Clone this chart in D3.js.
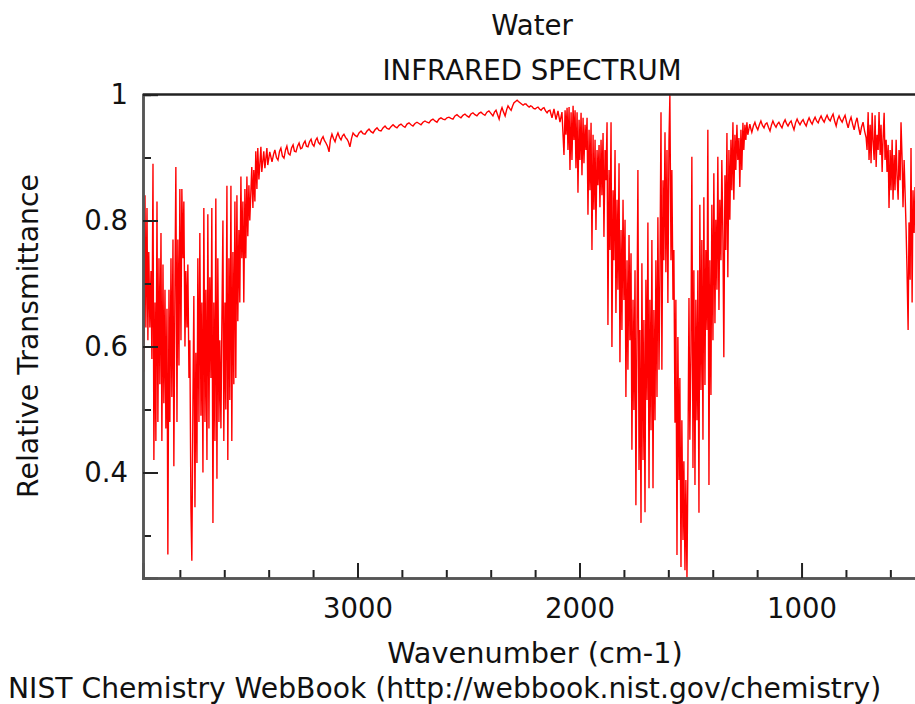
<!DOCTYPE html>
<html>
<head>
<meta charset="utf-8">
<script src="https://cdn.jsdelivr.net/npm/d3@7"></script>
<style>
  body { margin: 0; background: #fff; }
  svg { display: block; font-family: "DejaVu Sans", sans-serif; }
</style>
</head>
<body>
<svg id="chart" width="915" height="704"></svg>
<script>
// titles
const titleLines = ["Water", "INFRARED SPECTRUM"];
const xTitle = "Wavenumber (cm-1)";
const yTitle = "Relative Transmittance";
const footer = "NIST Chemistry WebBook (http://webbook.nist.gov/chemistry)";

// axis ticks
const xMajorTicks = [3000, 2000, 1000];
const xMinorTicks = [3800, 3600, 3400, 3200, 2800, 2600, 2400, 2200, 1800, 1600, 1400, 1200, 800, 600];
const yMajorTicks = [0.4, 0.6, 0.8, 1];
const yMinorTicks = [0.3, 0.5, 0.7, 0.9];

// spectrum, [wavenumber cm-1, transmittance]
// O-H stretch band
const bandStretch = [
  [3966,0.83],[3962,0.56],[3957,0.84],[3953,0.63],[3948,0.82],[3944,0.61],[3940,0.75],[3935,0.63],
  [3930,0.72],[3926,0.58],[3921,0.89],[3917,0.42],[3912,0.67],[3908,0.45],[3903,0.83],[3899,0.48],
  [3894,0.74],[3890,0.54],[3885,0.78],[3881,0.45],[3876,0.73],[3872,0.51],[3867,0.69],[3863,0.47],
  [3858,0.66],[3854,0.27],[3849,0.69],[3845,0.48],[3840,0.74],[3836,0.52],[3831,0.77],[3827,0.41],
  [3822,0.70],[3818,0.885],[3813,0.48],[3809,0.77],[3804,0.57],[3800,0.85],[3795,0.61],[3791,0.85],
  [3786,0.74],[3782,0.83],[3777,0.60],[3773,0.72],[3768,0.63],[3764,0.73],[3759,0.55],[3755,0.61],
  [3750,0.34],[3746,0.26],[3741,0.515],[3737,0.68],[3732,0.345],[3728,0.59],[3723,0.415],[3719,0.74],
  [3714,0.48],[3710,0.78],[3705,0.49],[3701,0.67],[3696,0.40],[3692,0.82],[3687,0.48],[3683,0.69],
  [3678,0.42],[3674,0.81],[3669,0.47],[3665,0.71],[3660,0.55],[3656,0.82],[3651,0.32],[3647,0.67],
  [3642,0.45],[3638,0.835],[3633,0.39],[3629,0.74],[3624,0.48],[3620,0.61],[3615,0.47],[3611,0.63],
  [3606,0.80],[3602,0.45],[3597,0.67],[3593,0.50],[3588,0.855],[3584,0.42],[3579,0.74],[3575,0.515],
  [3570,0.855],[3566,0.45],[3561,0.75],[3557,0.54],[3552,0.83],[3548,0.55],[3543,0.84],[3539,0.64],
  [3534,0.785],[3530,0.67],[3525,0.87],[3521,0.74],[3516,0.83],[3512,0.67],[3507,0.85],[3503,0.74],
  [3498,0.87],[3494,0.775],[3489,0.856],[3485,0.80],[3476,0.885],[3471,0.82],[3467,0.88],[3462,0.83],
  [3458,0.91],[3453,0.85],[3449,0.915],[3444,0.865],[3435,0.917],[3431,0.877],[3422,0.91],[3417,0.883],
  [3408,0.915],[3404,0.888],[3395,0.909],[3385,0.893]
];

// quiet region between the bands
const continuumHigh = [
  [3378,0.905],[3372,0.912],[3365,0.900],[3358,0.896],[3351,0.910],[3345,0.915],[3338,0.902],[3331,0.899],
  [3324,0.912],[3318,0.918],[3311,0.906],[3304,0.904],[3297,0.915],[3290,0.920],[3284,0.910],[3277,0.909],
  [3270,0.918],[3263,0.923],[3256,0.914],[3250,0.915],[3243,0.922],[3236,0.926],[3230,0.918],[3223,0.917],
  [3216,0.925],[3209,0.929],[3203,0.921],[3196,0.918],[3189,0.927],[3182,0.931],[3176,0.924],[3169,0.921],
  [3162,0.929],[3155,0.933],[3149,0.927],[3142,0.923],[3135,0.918],[3128,0.909],[3122,0.928],[3115,0.937],
  [3108,0.930],[3101,0.925],[3095,0.933],[3088,0.939],[3081,0.932],[3074,0.928],[3068,0.934],[3061,0.937],
  [3054,0.932],[3047,0.929],[3041,0.925],[3034,0.917],[3027,0.930],[3020,0.939],[3011,0.935],[3002,0.933],
  [2993,0.939],[2984,0.942],[2975,0.938],[2966,0.937],[2957,0.942],[2948,0.945],[2939,0.941],[2930,0.939],
  [2921,0.944],[2912,0.947],[2903,0.943],[2894,0.942],[2885,0.947],[2876,0.950],[2867,0.946],[2858,0.945],
  [2849,0.949],[2840,0.952],[2831,0.949],[2822,0.947],[2813,0.951],[2804,0.953],[2795,0.950],[2786,0.948],
  [2777,0.953],[2768,0.955],[2759,0.952],[2750,0.950],[2741,0.954],[2732,0.956],[2723,0.954],[2714,0.952],
  [2705,0.956],[2696,0.958],[2687,0.956],[2678,0.955],[2669,0.959],[2660,0.961],[2651,0.958],[2642,0.956],
  [2633,0.961],[2624,0.963],[2615,0.961],[2606,0.960],[2597,0.963],[2588,0.964],[2579,0.962],[2570,0.961],
  [2561,0.966],[2552,0.968],[2543,0.965],[2534,0.963],[2525,0.967],[2516,0.969],[2507,0.966],[2498,0.964],
  [2489,0.969],[2480,0.971],[2471,0.968],[2462,0.966],[2453,0.970],[2444,0.972],[2435,0.969],[2426,0.967],
  [2417,0.972],[2408,0.974],[2399,0.970],[2390,0.966],[2383,0.972],[2376,0.975],[2369,0.968],[2362,0.961],
  [2355,0.973],[2349,0.979],[2342,0.972],[2335,0.966],[2328,0.976],[2322,0.982],[2315,0.978],[2308,0.975],
  [2301,0.982],[2295,0.987],[2288,0.989],[2281,0.991],[2275,0.989],[2268,0.987],[2261,0.985],[2254,0.983],
  [2247,0.985],[2241,0.985],[2234,0.982],[2227,0.980],[2220,0.982],[2214,0.981],[2207,0.978],[2200,0.977],
  [2193,0.979],[2187,0.980],[2180,0.977],[2173,0.975],[2166,0.978],[2160,0.979],[2153,0.974],[2146,0.971],
  [2140,0.974],[2133,0.975],[2124,0.963],[2115,0.977],[2106,0.960],[2097,0.974],[2088,0.956],[2079,0.972]
];

// H-O-H bend band
const bandBend = [
  [2070,0.904],[2065,0.975],[2061,0.936],[2056,0.979],[2052,0.912],[2047,0.980],[2043,0.880],[2038,0.972],
  [2034,0.896],[2029,0.982],[2025,0.928],[2020,0.975],[2016,0.883],[2011,0.972],[2007,0.844],[2002,0.960],
  [1998,0.896],[1993,0.971],[1989,0.872],[1984,0.963],[1980,0.891],[1975,0.952],[1971,0.912],[1966,0.963],
  [1962,0.809],[1957,0.944],[1953,0.848],[1948,0.955],[1944,0.753],[1939,0.936],[1935,0.817],[1930,0.928],
  [1926,0.785],[1921,0.912],[1917,0.856],[1912,0.920],[1908,0.821],[1903,0.928],[1899,0.840],[1894,0.939],
  [1890,0.774],[1885,0.912],[1881,0.864],[1876,0.956],[1872,0.634],[1867,0.880],[1863,0.753],[1858,0.956],
  [1854,0.599],[1849,0.848],[1845,0.737],[1840,0.912],[1836,0.653],[1831,0.833],[1827,0.690],[1822,0.891],
  [1818,0.575],[1813,0.785],[1809,0.626],[1804,0.833],[1800,0.674],[1795,0.801],[1791,0.520],[1786,0.737],
  [1782,0.563],[1777,0.777],[1773,0.610],[1768,0.748],[1764,0.436],[1759,0.674],[1755,0.499],[1750,0.721],
  [1746,0.348],[1741,0.642],[1737,0.880],[1732,0.404],[1728,0.626],[1723,0.320],[1719,0.732],[1714,0.420],
  [1710,0.642],[1705,0.337],[1701,0.706],[1696,0.515],[1692,0.797],[1687,0.375],[1683,0.674],[1678,0.467],
  [1674,0.769],[1669,0.375],[1665,0.658],[1660,0.483],[1656,0.737],[1651,0.520],[1647,0.805],[1642,0.563],
  [1638,0.706],[1633,0.972],[1629,0.563],[1624,0.864],[1620,0.737],[1615,0.940],[1611,0.718],[1606,0.912],
  [1602,0.669],[1597,0.928],[1593,0.999],[1588,0.737],[1584,0.880],[1579,0.674],[1575,0.753],[1570,0.479],
  [1566,0.674],[1561,0.269],[1557,0.615],[1552,0.388],[1548,0.550],[1543,0.250],[1539,0.483],[1534,0.293],
  [1530,0.418],[1525,0.245],[1521,0.388],[1516,0.233],[1512,0.404],[1507,0.677],[1503,0.452],[1498,0.594],
  [1494,0.901],[1489,0.407],[1485,0.721],[1480,0.380],[1476,0.674],[1471,0.483],[1467,0.721],[1462,0.336],
  [1458,0.825],[1453,0.531],[1449,0.769],[1444,0.452],[1440,0.837],[1435,0.539],[1431,0.753],[1426,0.626],
  [1422,0.944],[1417,0.380],[1413,0.737],[1408,0.523],[1404,0.825],[1399,0.610],[1395,0.875],[1390,0.637],
  [1386,0.801],[1381,0.690],[1377,0.901],[1372,0.658],[1368,0.833],[1363,0.737],[1359,0.896],[1354,0.769],
  [1350,0.583],[1345,0.872],[1341,0.753],[1336,0.939],[1332,0.710],[1327,0.912],[1323,0.801],[1318,0.928],
  [1314,0.848],[1309,0.956],[1305,0.833],[1300,0.936],[1296,0.880],[1291,0.952],[1287,0.896],[1282,0.931],
  [1278,0.853],[1273,0.944],[1269,0.880],[1264,0.955],[1260,0.912],[1255,0.952],[1251,0.928],[1246,0.956],
  [1242,0.936],[1233,0.953]
];

const continuumLow = [
  [1228,0.945],[1224,0.940],[1217,0.950],[1210,0.956],[1204,0.949],[1197,0.944],[1190,0.952],[1183,0.958],
  [1176,0.951],[1169,0.947],[1163,0.953],[1156,0.955],[1149,0.948],[1142,0.942],[1136,0.951],[1129,0.958],
  [1122,0.952],[1115,0.948],[1109,0.953],[1102,0.956],[1095,0.951],[1088,0.947],[1081,0.955],[1074,0.960],
  [1068,0.954],[1061,0.950],[1054,0.955],[1047,0.958],[1041,0.951],[1034,0.944],[1027,0.955],[1020,0.961],
  [1014,0.956],[1007,0.952],[1000,0.957],[993,0.960],[986,0.954],[979,0.950],[973,0.957],[966,0.963],
  [959,0.957],[952,0.953],[946,0.959],[939,0.964],[932,0.958],[925,0.955],[919,0.961],[912,0.966],
  [905,0.960],[898,0.956],[892,0.962],[885,0.967],[878,0.961],[871,0.958],[865,0.964],[858,0.969],
  [851,0.958],[844,0.950],[838,0.960],[831,0.966],[824,0.960],[817,0.956],[811,0.962],[804,0.967],
  [797,0.956],[790,0.947],[784,0.957],[777,0.964],[770,0.953],[763,0.944],[757,0.955],[750,0.963],
  [743,0.948],[736,0.936],[730,0.948],[723,0.956],[716,0.942],[709,0.931]
];

// start of the librational band at the right edge
const bandEdge = [
  [705,0.912],[700,0.972],[696,0.896],[691,0.952],[687,0.891],[682,0.971],[678,0.928],[673,0.896],
  [669,0.967],[664,0.885],[660,0.936],[655,0.912],[651,0.972],[646,0.904],[642,0.952],[637,0.877],
  [633,0.928],[628,0.971],[624,0.896],[619,0.928],[615,0.877],[610,0.920],[606,0.820],[601,0.912],
  [597,0.848],[592,0.928],[588,0.833],[583,0.904],[579,0.848],[574,0.928],[570,0.872],[565,0.833],
  [561,0.912],[556,0.864],[552,0.956],[547,0.896],[543,0.821],[538,0.896],[534,0.848],[529,0.785],
  [525,0.721],[520,0.626],[516,0.797],[511,0.706],[507,0.915],[502,0.670],[498,0.848],[493,0.780],
  [489,0.853]
];

const spectrum = [].concat(bandStretch, continuumHigh, bandBend, continuumLow, bandEdge);

// layout
const margin = { top: 94.5, left: 143, right: -2, bottom: 126 };
const W = 915, H = 704;
const TICK_FONT = 27.5;

const svg = d3.select("#chart");

const x = d3.scaleLinear()
  .domain([3966, 480])
  .range([margin.left, W - margin.right]);

const y = d3.scaleLinear()
  .domain([0.2325, 1])
  .range([H - margin.bottom, margin.top]);

// clip for the trace
svg.append("clipPath")
  .attr("id", "plot-clip")
  .append("rect")
  .attr("x", x.range()[0])
  .attr("y", y.range()[1])
  .attr("width", x.range()[1] - x.range()[0])
  .attr("height", y.range()[0] - y.range()[1]);

// trace
const line = d3.line()
  .x(d => x(d[0]))
  .y(d => y(d[1]));

svg.append("path")
  .datum(spectrum)
  .attr("clip-path", "url(#plot-clip)")
  .attr("fill", "none")
  .attr("stroke", "#ff0000")
  .attr("stroke-width", 1.4)
  .attr("d", line);

// frame: top border dark, axes grey
svg.append("line")
  .attr("x1", x.range()[0]).attr("x2", x.range()[1])
  .attr("y1", y.range()[1]).attr("y2", y.range()[1])
  .attr("stroke", "#222").attr("stroke-width", 2.5);

svg.append("line")
  .attr("x1", x.range()[1]).attr("x2", x.range()[1])
  .attr("y1", y.range()[1]).attr("y2", y.range()[0])
  .attr("stroke", "#222").attr("stroke-width", 2.5);

function styleAxis(g) {
  g.select(".domain").attr("stroke", "#555").attr("stroke-width", 2.5);
  g.selectAll(".tick line").attr("stroke", "#222").attr("stroke-width", 2);
  g.selectAll(".tick text")
    .attr("fill", "#111")
    .attr("font-size", TICK_FONT)
    .attr("font-family", "DejaVu Sans, sans-serif");
}

// minor ticks, no labels
svg.append("g")
  .attr("transform", `translate(0,${y.range()[0]})`)
  .call(d3.axisBottom(x).tickValues(xMinorTicks).tickSize(-8).tickFormat(""))
  .call(styleAxis);

svg.append("g")
  .attr("transform", `translate(${x.range()[0]},0)`)
  .call(d3.axisLeft(y).tickValues(yMinorTicks).tickSize(-8).tickFormat(""))
  .call(styleAxis);

// major ticks with labels
svg.append("g")
  .attr("transform", `translate(0,${y.range()[0]})`)
  .call(d3.axisBottom(x).tickValues(xMajorTicks).tickSize(-15).tickPadding(20).tickFormat(d3.format("d")))
  .call(styleAxis);

svg.append("g")
  .attr("transform", `translate(${x.range()[0]},0)`)
  .call(d3.axisLeft(y).tickValues(yMajorTicks).tickSize(-15).tickPadding(15).tickFormat(d3.format("~g")))
  .call(styleAxis);

// titles
svg.selectAll("text.title")
  .data(titleLines)
  .enter()
  .append("text")
  .attr("class", "title")
  .attr("x", 532)
  .attr("y", (d, i) => 35 + i * 45)
  .attr("text-anchor", "middle")
  .attr("font-size", 27.6)
  .attr("fill", "#111")
  .text(d => d);

svg.append("text")
  .attr("x", 535)
  .attr("y", 663)
  .attr("text-anchor", "middle")
  .attr("font-size", 28.8)
  .attr("fill", "#111")
  .text(xTitle);

svg.append("text")
  .attr("transform", "translate(38,336) rotate(-90)")
  .attr("text-anchor", "middle")
  .attr("font-size", 28.3)
  .attr("fill", "#111")
  .text(yTitle);

svg.append("text")
  .attr("x", 8)
  .attr("y", 698)
  .attr("font-size", 28.2)
  .attr("fill", "#111")
  .text(footer);
</script>
</body>
</html>
